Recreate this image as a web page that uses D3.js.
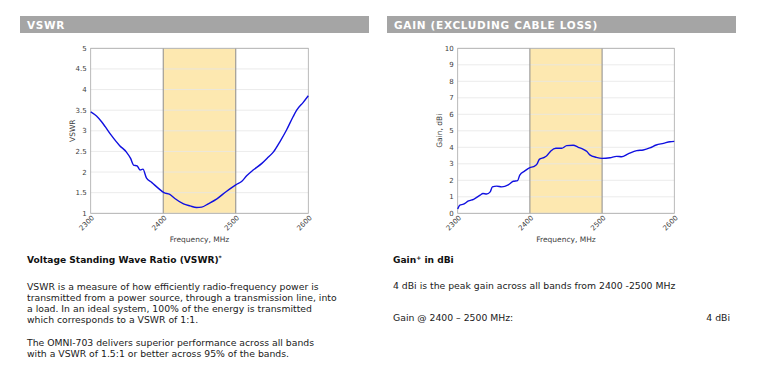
<!DOCTYPE html>
<html>
<head>
<meta charset="utf-8">
<script src="https://cdn.jsdelivr.net/npm/d3@7"></script>
<style>
  body { margin: 0; background: #fff; }
  text { font-family: "DejaVu Sans", sans-serif; }
</style>
</head>
<body>
<div class="chart" style="width:765px;height:371px"></div>
<script>
// frequency (MHz) / value pairs
const vswrFreq = [2300, 2308, 2315, 2320, 2328, 2340, 2349, 2355, 2359, 2364, 2368, 2372, 2377, 2384, 2393, 2401, 2409, 2416, 2428, 2437, 2446, 2453, 2462, 2474, 2487, 2500, 2508, 2515, 2524, 2536, 2543, 2552, 2561, 2570, 2579, 2584, 2593, 2600];
const vswrVals = [3.46, 3.36, 3.22, 3.10, 2.90, 2.64, 2.49, 2.33, 2.17, 2.15, 2.05, 2.07, 1.85, 1.75, 1.61, 1.50, 1.46, 1.36, 1.23, 1.18, 1.14, 1.15, 1.23, 1.35, 1.53, 1.69, 1.77, 1.91, 2.05, 2.21, 2.33, 2.49, 2.74, 3.02, 3.34, 3.50, 3.69, 3.85];

const gainFreq = [2300, 2303, 2308, 2315, 2322, 2331, 2335, 2340, 2345, 2348, 2354, 2361, 2370, 2377, 2383, 2386, 2393, 2400, 2405, 2410, 2413, 2420, 2423, 2429, 2436, 2444, 2451, 2460, 2467, 2474, 2479, 2483, 2492, 2500, 2511, 2520, 2527, 2536, 2548, 2557, 2566, 2575, 2585, 2594, 2600];
const gainVals = [0.26, 0.50, 0.55, 0.75, 0.85, 1.10, 1.20, 1.17, 1.30, 1.60, 1.65, 1.60, 1.72, 1.94, 1.98, 2.32, 2.57, 2.77, 2.83, 2.99, 3.27, 3.39, 3.47, 3.78, 3.94, 3.94, 4.10, 4.12, 4.00, 3.88, 3.74, 3.54, 3.39, 3.33, 3.37, 3.45, 3.43, 3.60, 3.80, 3.84, 3.96, 4.14, 4.24, 4.34, 4.36];

const xTicks = [2300, 2400, 2500, 2600];
const band = [2400, 2500];
const vswrTicks = [1, 1.5, 2, 2.5, 3, 3.5, 4, 4.5, 5];
const gainTicks = [0, 1, 2, 3, 4, 5, 6, 7, 8, 9, 10];

const svg = d3.select('.chart').append('svg')
  .attr('width', 765)
  .attr('height', 371)

// grey section headers
function header(x, w, label) {
  svg.append('rect')
    .attr('x', x).attr('y', 16)
    .attr('width', w).attr('height', 17)
    .style('fill', '#a5a5a5')
  svg.append('text')
    .attr('x', x + 7).attr('y', 28.5)
    .style('font-size', '10.5px')
    .style('font-weight', 'bold')
    .style('letter-spacing', '0.7px')
    .style('fill', '#fff')
    .text(label)
}
header(20, 349, 'VSWR');
header(387, 349, 'GAIN (EXCLUDING CABLE LOSS)');

function plot(opt) {
  const x = d3.scaleLinear().domain([2300, 2600]).range([opt.left, opt.right]);
  const y = d3.scaleLinear().domain(opt.domain).range([213.3, 48.3]);
  const g = svg.append('g');

  // band highlight
  g.append('rect')
    .attr('x', x(band[0])).attr('y', y.range()[1])
    .attr('width', x(band[1]) - x(band[0]))
    .attr('height', y.range()[0] - y.range()[1])
    .style('fill', '#fde8b0')

  // horizontal grid
  g.selectAll('.grid').data(opt.ticks).enter().append('line')
    .attr('x1', opt.left).attr('x2', opt.right)
    .attr('y1', d => y(d)).attr('y2', d => y(d))
    .style('stroke', '#e6e6e6')
    .style('stroke-width', '0.8px')

  // band edges
  g.selectAll('.edge').data(band).enter().append('line')
    .attr('x1', d => x(d)).attr('x2', d => x(d))
    .attr('y1', y.range()[1]).attr('y2', y.range()[0])
    .style('stroke', '#8c8c8c')
    .style('stroke-width', '1px')

  // frame
  g.append('rect')
    .attr('x', opt.left).attr('y', y.range()[1])
    .attr('width', opt.right - opt.left)
    .attr('height', y.range()[0] - y.range()[1])
    .style('fill', 'none')
    .style('stroke', '#a8a8a8')
    .style('stroke-width', '0.8px')

  // y tick labels
  g.selectAll('.yt').data(opt.ticks).enter().append('text')
    .attr('x', opt.left - 4)
    .attr('y', d => y(d) + 2.5)
    .attr('text-anchor', 'end')
    .style('font-size', '7px')
    .style('fill', '#404040')
    .text(d => d)

  // x tick labels, rotated
  g.selectAll('.xt').data(xTicks).enter().append('text')
    .attr('transform', d => `translate(${x(d) + 4},${y.range()[0] + 5}) rotate(-45)`)
    .attr('text-anchor', 'end')
    .style('font-size', '7px')
    .style('fill', '#404040')
    .text(d => d)

  g.append('text')
    .attr('x', (opt.left + opt.right) / 2)
    .attr('y', 242)
    .attr('text-anchor', 'middle')
    .style('font-size', '7.5px')
    .style('fill', '#404040')
    .text('Frequency, MHz')

  g.append('text')
    .attr('transform', `translate(${opt.labelX},130.7) rotate(-90)`)
    .attr('text-anchor', 'middle')
    .style('font-size', '7.5px')
    .style('fill', '#404040')
    .text(opt.ylabel)

  const line = d3.line()
    .x(d => x(d[0]))
    .y(d => y(d[1]))
    .curve(d3.curveMonotoneX)

  g.append('path')
    .datum(d3.zip(opt.freq, opt.vals))
    .attr('d', line)
    .style('fill', 'none')
    .style('stroke', '#1010e0')
    .style('stroke-width', '1.4px')
}

plot({ left: 90.7, right: 308.3, domain: [1, 5], ticks: vswrTicks, freq: vswrFreq, vals: vswrVals, ylabel: 'VSWR', labelX: 75 });
plot({ left: 457.7, right: 674.3, domain: [0, 10], ticks: gainTicks, freq: gainFreq, vals: gainVals, ylabel: 'Gain, dBi', labelX: 442 });

// text blocks under the charts
const leftLines = [
  'VSWR is a measure of how efficiently radio-frequency power is',
  'transmitted from a power source, through a transmission line, into',
  'a load. In an ideal system, 100% of the energy is transmitted',
  'which corresponds to a VSWR of 1:1.',
  '',
  'The OMNI-703 delivers superior performance across all bands',
  'with a VSWR of 1.5:1 or better across 95% of the bands.'
];

const body = svg.append('g').style('font-size', '10px').style('fill', '#1a1a1a');

const title1 = svg.append('text')
  .attr('x', 27).attr('y', 262.5)
  .style('font-size', '9.1px').style('font-weight', 'bold').style('fill', '#111')
title1.append('tspan').text('Voltage Standing Wave Ratio (VSWR)');
title1.append('tspan').attr('dy', -3).style('font-size', '6px').text('*');

leftLines.forEach((t, i) => {
  body.append('text').attr('x', 27).attr('y', 289.5 + i * 11.3).text(t)
});

const title2 = svg.append('text')
  .attr('x', 393).attr('y', 262.5)
  .style('font-size', '9.1px').style('font-weight', 'bold').style('fill', '#111')
title2.append('tspan').text('Gain');
title2.append('tspan').attr('dy', -3).style('font-size', '6px').text('+');
title2.append('tspan').attr('dy', 3).text(' in dBi');

body.append('text').attr('x', 393).attr('y', 288.5).text('4 dBi is the peak gain across all bands from 2400 -2500 MHz');
body.append('text').attr('x', 393).attr('y', 321).text('Gain @ 2400 – 2500 MHz:');
body.append('text').attr('x', 730).attr('y', 321).attr('text-anchor', 'end').text('4 dBi');

// fit paragraph width to the reference (longest line ~310px wide)
const probe = body.selectAll('text').filter((d, i) => i === 1).node();
const w = probe.getComputedTextLength();
const fs = 10 * 310 / w;
body.style('font-size', fs + 'px');
</script>
</body>
</html>
